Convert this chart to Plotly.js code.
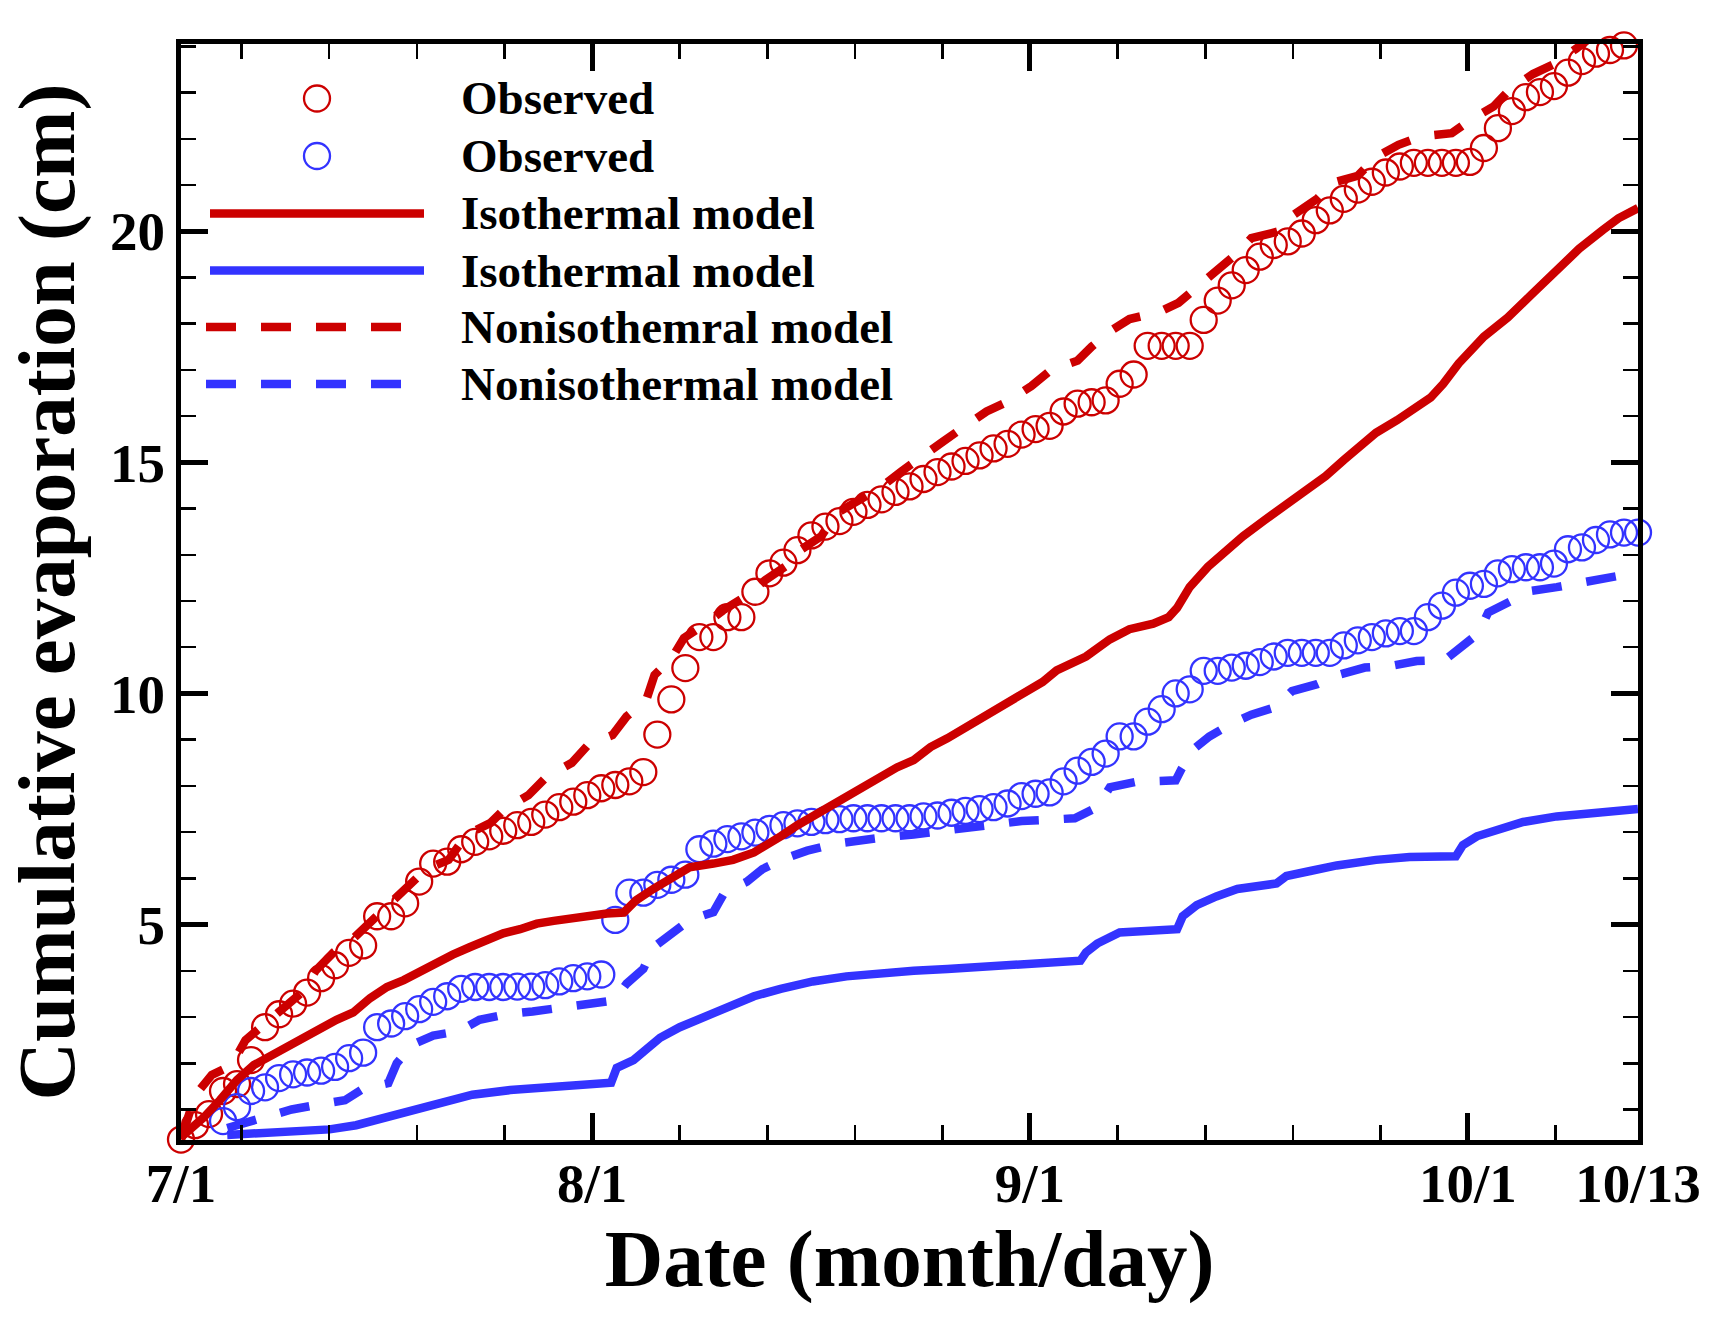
<!DOCTYPE html>
<html>
<head>
<meta charset="utf-8">
<script src="https://cdn.plot.ly/plotly-3.0.1.min.js"></script>
<style>html,body{margin:0;padding:0;background:#ffffff;}</style>
</head>
<body>
<div id="chart" style="width:1726px;height:1323px;"></div>
<script>
// ---------- data ----------
const seriesNames = ["Observed", "Observed", "Isothermal model", "Isothermal model",
                     "Nonisothemral model", "Nonisothermal model"];

const xTickDays   = [0, 29.34, 60.6, 91.86, 104];
const xTickLabels = ["7/1", "8/1", "9/1", "10/1", "10/13"];
const yTickVals   = [5, 10, 15, 20];
const yTickLabels = ["5", "10", "15", "20"];

// Observed (red), day index since 7/1
const redObsDays = [0,1,2,3,4,5,6,7,8,9,10,11,12,13,14,15,16,17,18,19,20,21,22,23,24,25,26,27,28,29,
  30,31,32,33,34,35,36,37,38,39,40,41,42,43,44,45,46,47,48,49,50,51,52,53,54,55,56,57,58,59,
  60,61,62,63,64,65,66,67,68,69,70,71,72,73,74,75,76,77,78,79,80,81,82,83,84,85,86,87,88,89,
  90,91,92,93,94,95,96,97,98,99,100,101,102,103,104];
const redObs = [0.35,0.66,0.90,1.40,1.55,2.07,2.78,3.06,3.29,3.53,
  3.84,4.12,4.39,4.55,5.18,5.18,5.46,5.93,6.32,6.36,
  6.63,6.79,6.91,7.03,7.15,7.22,7.38,7.54,7.66,7.80,
  7.95,8.02,8.10,8.30,9.11,9.87,10.55,11.22,11.22,11.65,
  11.65,12.20,12.60,12.83,13.10,13.42,13.61,13.73,13.93,14.08,
  14.20,14.36,14.48,14.64,14.79,14.91,15.03,15.15,15.30,15.40,
  15.60,15.72,15.79,16.10,16.27,16.30,16.34,16.70,16.90,17.52,
  17.52,17.52,17.52,18.08,18.50,18.83,19.16,19.45,19.70,19.78,
  19.95,20.24,20.45,20.70,20.90,21.07,21.27,21.40,21.48,21.48,
  21.48,21.48,21.50,21.80,22.23,22.60,22.90,23.01,23.14,23.43,
  23.68,23.84,23.92,24.02,24.06];

// Observed (blue)
const blueObsDays = [3,4,5,6,7,8,9,10,11,12,13,14,15,16,17,18,19,20,21,22,23,24,25,26,27,28,29,
  30,31,32,33,34,35,36,37,38,39,40,41,42,43,44,45,46,47,48,49,50,51,52,53,54,55,56,57,58,59,
  60,61,62,63,64,65,66,67,68,69,70,71,72,73,74,75,76,77,78,79,80,81,82,83,84,85,86,87,88,89,
  90,91,92,93,94,95,96,97,98,99,100,101,102,103,104];
const blueObs = [0.75,1.05,1.40,1.48,1.68,1.76,1.80,1.84,1.92,2.11,
  2.23,2.78,2.86,3.02,3.17,3.33,3.45,3.61,3.65,3.65,
  3.65,3.66,3.66,3.69,3.77,3.84,3.88,3.92,5.10,5.69,
  5.69,5.86,5.97,6.08,6.63,6.75,6.85,6.91,6.99,7.07,
  7.15,7.19,7.22,7.26,7.28,7.30,7.30,7.30,7.30,7.30,
  7.34,7.36,7.42,7.46,7.50,7.54,7.62,7.78,7.83,7.86,
  8.10,8.33,8.52,8.70,9.07,9.07,9.39,9.66,10.00,10.09,
  10.49,10.49,10.56,10.60,10.68,10.80,10.88,10.88,10.88,10.88,
  11.04,11.15,11.22,11.30,11.35,11.35,11.65,11.90,12.18,12.33,
  12.37,12.60,12.69,12.73,12.73,12.81,13.12,13.16,13.32,13.44,
  13.48,13.48];

// Isothermal model (red)
const redIsoDays = [0,1.6,2.8,4.0,5.2,6.4,7.5,8.7,9.9,11.1,
  12.3,13.5,14.7,15.9,17.1,18.3,19.4,20.6,21.8,23.0,
  24.2,25.4,26.6,27.8,29.0,30.4,31.6,32.5,33.7,35.1,
  36.3,38.0,39.4,40.9,41.8,42.8,44.0,45.1,46.3,47.5,
  48.7,49.9,51.1,52.3,53.5,54.7,55.8,57.0,58.2,59.4,
  61.5,62.5,64.6,66.3,67.7,69.4,70.5,71.1,72.0,73.3,
  74.8,75.8,77.3,79.3,80.6,81.7,83.0,84.2,85.3,86.8,
  88.2,89.2,90.1,91.2,93.0,94.7,96.4,98.1,99.8,101.5,
  102.6,104.0];
const redIso = [0.40,0.82,1.21,1.64,1.96,2.15,2.31,2.55,2.74,2.94,
  3.10,3.41,3.65,3.80,4.00,4.20,4.35,4.51,4.67,4.81,
  4.90,5.02,5.08,5.14,5.20,5.24,5.26,5.53,5.77,6.05,
  6.24,6.32,6.40,6.56,6.71,6.91,7.15,7.34,7.59,7.77,
  7.97,8.17,8.40,8.56,8.84,9.03,9.23,9.43,9.62,9.86,
  10.25,10.50,10.80,11.17,11.39,11.51,11.65,11.85,12.30,12.74,
  13.15,13.40,13.74,14.17,14.42,14.70,15.05,15.35,15.64,15.91,
  16.17,16.40,16.70,17.14,17.72,18.13,18.63,19.12,19.62,20.03,
  20.28,20.50];

// Isothermal model (blue)
const blueIsoDays = [3.3,6.3,10.6,12.5,14.4,15.9,17.7,19.0,20.8,23.5,
  25.4,27.5,30.7,31.1,32.3,33.2,34.2,35.6,37.0,38.0,
  39.4,40.9,42.8,45.1,47.5,49.9,52.3,54.7,57.0,59.4,
  64.2,64.6,65.4,67.0,71.1,71.5,72.5,73.9,75.4,78.2,
  78.9,80.6,82.5,85.3,87.7,91.0,91.5,92.5,94.6,95.8,
  98.2,100.6,104.0];
const blueIso = [0.45,0.49,0.57,0.66,0.82,0.95,1.10,1.20,1.32,1.42,
  1.47,1.53,1.58,1.90,2.07,2.30,2.55,2.78,2.95,3.06,
  3.25,3.45,3.61,3.77,3.88,3.96,4.00,4.04,4.08,4.12,
  4.22,4.40,4.59,4.83,4.90,5.18,5.42,5.61,5.77,5.89,
  6.05,6.16,6.28,6.40,6.46,6.48,6.72,6.91,7.11,7.22,
  7.34,7.42,7.50];

// Nonisothermal model (red)
const redNonDays = [0,1.0,2.2,3.6,4.6,5.9,7.3,8.7,9.6,10.9,
  12.3,13.7,14.8,16.3,17.5,19.1,20.4,22.1,23.1,24.8,
  26.1,27.9,29.1,30.8,31.8,33.2,33.8,35.0,35.9,37.4,
  38.7,40.3,41.7,43.4,44.2,45.7,46.8,48.5,49.9,51.4,
  52.9,54.4,55.8,57.5,58.9,60.7,62.1,64.0,65.0,66.4,
  67.7,69.8,71.2,72.6,73.8,75.3,76.4,78.4,79.4,81.1,
  82.2,84.0,85.3,86.9,88.5,90.7,92.0,93.7,94.8,96.5,
  97.9,99.6,101.0,104.0];
const redNon = [0.35,1.30,1.75,1.95,2.50,2.85,3.20,3.55,4.00,4.40,
  4.70,5.10,5.40,5.85,6.20,6.40,6.95,7.20,7.50,7.80,
  8.20,8.50,8.90,9.10,9.50,9.85,10.40,10.75,11.20,11.50,
  11.80,12.10,12.45,12.80,13.10,13.40,13.90,14.20,14.45,14.80,
  15.10,15.45,15.75,16.10,16.30,16.65,17.00,17.20,17.50,17.85,
  18.10,18.25,18.45,18.80,19.10,19.50,19.85,20.00,20.35,20.70,
  21.05,21.20,21.60,21.87,22.05,22.12,22.40,22.70,23.05,23.40,
  23.60,23.95,24.30,24.80];

// Nonisothermal model (blue)
const blueNonDays = [3.3,6.0,7.9,9.7,11.7,13.0,14.8,15.4,16.5,18.0,
  19.9,21.3,23.2,25.1,27.1,28.8,30.9,31.8,33.0,33.7,
  35.0,36.3,38.0,38.8,40.4,41.5,43.1,44.7,46.7,48.5,
  50.5,52.3,54.3,56.2,58.2,60.0,62.0,63.8,65.4,66.3,
  68.2,70.1,71.0,71.4,72.3,73.4,75.0,76.4,78.1,79.3,
  81.1,82.6,84.5,86.4,88.2,90.2,91.4,92.6,93.3,94.8,
  96.4,98.2,100.1,102.0,104.0];
const blueNon = [0.60,0.86,1.00,1.10,1.20,1.45,1.57,2.00,2.40,2.60,
  2.70,2.94,3.06,3.12,3.20,3.28,3.36,3.72,4.04,4.50,
  4.83,5.10,5.27,5.70,5.93,6.20,6.43,6.60,6.75,6.83,
  6.90,6.95,7.03,7.10,7.20,7.24,7.27,7.30,7.54,7.97,
  8.09,8.09,8.12,8.36,8.80,9.07,9.35,9.54,9.70,10.05,
  10.20,10.40,10.56,10.60,10.70,10.72,11.00,11.30,11.75,12.00,
  12.22,12.30,12.42,12.50,12.62];

// ---------- styling ----------
const RED = "rgb(204,0,0)";
const BLUE = "rgb(51,51,255)";
const FONT = "Liberation Serif, Times New Roman, serif";
const DASH = "30px,25px";
const LINE_W = 8.5;
const MARKER_SIZE = 26;

const W = 1726, H = 1323;
const PL = 181, PR = 1638, PT = 44, PB = 1140;   // plot area in page pixels
const px2paperX = x => (x - PL) / (PR - PL);
const px2paperY = y => (PB - y) / (PB - PT);

function obsTrace(x, y, color, name) {
  return {x: x, y: y, type: "scatter", mode: "markers", name: name, showlegend: false,
    cliponaxis: false,
    marker: {symbol: "circle-open", size: MARKER_SIZE, color: color,
             line: {color: color, width: 2.3}}};
}
function lineTrace(x, y, color, dash, name) {
  return {x: x, y: y, type: "scatter", mode: "lines", name: name, showlegend: false,
    line: {color: color, width: LINE_W, dash: dash}};
}

const traces = [
  obsTrace(redObsDays, redObs, RED, seriesNames[0]),
  obsTrace(blueObsDays, blueObs, BLUE, seriesNames[1]),
  lineTrace(redIsoDays, redIso, RED, "solid", seriesNames[2]),
  lineTrace(blueIsoDays, blueIso, BLUE, "solid", seriesNames[3]),
  lineTrace(redNonDays, redNon, RED, DASH, seriesNames[4]),
  lineTrace(blueNonDays, blueNon, BLUE, DASH, seriesNames[5])
];

// ---------- custom legend (long line samples as in the reference) ----------
const legendRowsPx = [98.5, 156, 213.5, 270.5, 327, 384];
const legendColors = [RED, BLUE, RED, BLUE, RED, BLUE];
const legendKinds  = ["marker", "marker", "solid", "solid", "dash", "dash"];
const shapes = [];
const annotations = [];
legendRowsPx.forEach((ry, i) => {
  const yp = px2paperY(ry);
  if (legendKinds[i] === "marker") {
    shapes.push({type: "circle", xref: "paper", yref: "paper",
      xsizemode: "pixel", ysizemode: "pixel",
      xanchor: px2paperX(317), yanchor: yp, x0: -13, x1: 13, y0: -13, y1: 13,
      line: {color: legendColors[i], width: 2.3}, fillcolor: "rgba(0,0,0,0)"});
  } else {
    const x1 = legendKinds[i] === "dash" ? 402 : 424;
    const x0 = legendKinds[i] === "dash" ? 206 : 210;
    shapes.push({type: "line", xref: "paper", yref: "paper",
      x0: px2paperX(x0), x1: px2paperX(x1), y0: yp, y1: yp,
      line: {color: legendColors[i], width: LINE_W,
             dash: legendKinds[i] === "dash" ? DASH : "solid"}});
  }
  annotations.push({text: seriesNames[i], xref: "paper", yref: "paper",
    x: px2paperX(459), y: yp, xanchor: "left", yanchor: "middle", showarrow: false,
    font: {family: FONT, size: 47, color: "#000000", weight: "bold"}});
});

const axisCommon = {
  showline: true, linewidth: 5, linecolor: "#000000", mirror: "allticks",
  ticks: "inside", ticklen: 27, tickwidth: 5, tickcolor: "#000000",
  showgrid: false, zeroline: false, automargin: false,
  tickfont: {family: FONT, size: 55, color: "#000000", weight: "bold"}
};

const layout = {
  width: W, height: H,
  margin: {l: PL, r: W - PR, t: PT, b: H - PB, pad: 0},
  paper_bgcolor: "#ffffff", plot_bgcolor: "#ffffff",
  showlegend: false,
  xaxis: Object.assign({}, axisCommon, {
    range: [0, 104],
    tickmode: "array", tickvals: xTickDays, ticktext: xTickLabels,
    ticklabelstandoff: -9,
    minor: {tick0: 29.34, dtick: 6.2533, ticks: "inside", ticklen: 15, tickwidth: 2.5,
            tickcolor: "#000000", showgrid: false},
    title: {text: "Date (month/day)", standoff: 0,
            font: {family: FONT, size: 81, color: "#000000", weight: "bold"}}
  }),
  yaxis: Object.assign({}, axisCommon, {
    range: [0.34, 24.05],
    tickmode: "array", tickvals: yTickVals, ticktext: yTickLabels,
    minor: {tick0: 0, dtick: 1, ticks: "inside", ticklen: 15, tickwidth: 2.5,
            tickcolor: "#000000", showgrid: false},
    title: {text: "Cumulative evaporation (cm)", standoff: 10,
            font: {family: FONT, size: 81, color: "#000000", weight: "bold"}}
  }),
  shapes: shapes,
  annotations: annotations
};

Plotly.newPlot("chart", traces, layout, {staticPlot: true, displayModeBar: false});
</script>
</body>
</html>
